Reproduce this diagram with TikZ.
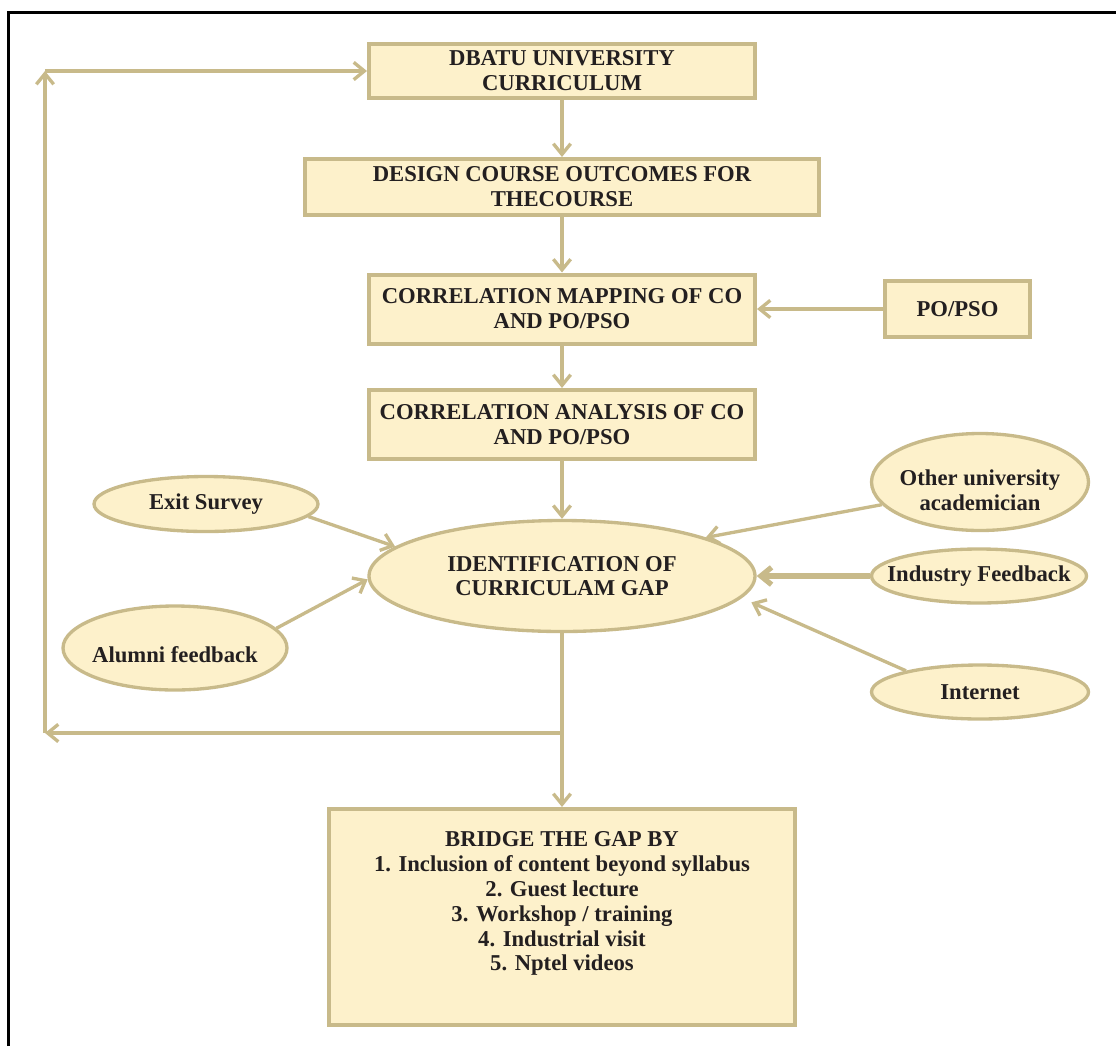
\documentclass[tikz,border=0pt]{standalone}
\usepackage{fontspec}
\setmainfont{Liberation Serif}
\usepackage{tikz}
\usetikzlibrary{shapes.geometric,arrows.meta}

\definecolor{edge}{RGB}{200,186,138}
\definecolor{cream}{RGB}{253,241,203}
\definecolor{ink}{RGB}{35,31,32}

\newcommand{\shiftedtext}[2]{\raisebox{#1}[\height][\depth]{\begin{tabular}{@{}c@{}}#2\end{tabular}}}

\begin{document}
\begin{tikzpicture}[x=0.75pt,y=-0.75pt,font=\bfseries\fontsize{17}{18.6}\selectfont]
            \tikzstyle{box}=[rectangle,draw=edge,fill=cream,line width=3pt,text=ink,align=center,inner sep=0pt,minimum width=289.5pt]
            \tikzstyle{bubble}=[ellipse,draw=edge,fill=cream,line width=2.5pt,text=ink,align=center,inner xsep=-20pt,inner ysep=0pt]
            \tikzstyle{flow}=[draw=edge,line width=2.5pt,-{Straight Barb[length=8pt,width=13pt]}]
                \useasboundingbox (0,0) rectangle (1116,1046);
                \draw[line width=2.5pt,black] (8.5,1046) -- (8.5,12.5) -- (1116,12.5);

                \node[box,minimum height=40.5pt] (dbatu) at (562,71) {DBATU UNIVERSITY\\CURRICULUM};
                \node[box,minimum width=386pt,minimum height=42pt] (design) at (562,187) {DESIGN COURSE OUTCOMES FOR\\THECOURSE};
                \node[box,minimum height=51.75pt] (mapping) at (562,309) {CORRELATION MAPPING OF CO\\AND PO/PSO};
                \node[box,minimum width=108.75pt,minimum height=42pt] (popso) at (957.5,309) {PO/PSO};
                \node[box,minimum height=51.75pt] (analysis) at (562,424.5) {CORRELATION ANALYSIS OF CO\\AND PO/PSO};

                \node[bubble,minimum width=289.5pt,minimum height=83.25pt] (gap) at (562,576) {IDENTIFICATION OF\\CURRICULAM GAP};
                \node[bubble,minimum width=168pt,minimum height=41.25pt] (exit) at (206,504) {Exit Survey};
                \node[bubble,minimum width=168pt,minimum height=63pt] (alumni) at (175,648) {\shiftedtext{-7.5pt}{Alumni feedback}};
                \node[bubble,minimum width=162.75pt,minimum height=72.75pt] (other) at (980,482) {\shiftedtext{-8pt}{Other university\\academician}};
                \node[bubble,minimum width=161.25pt,minimum height=40.5pt] (industry) at (979,576) {Industry Feedback};
                \node[bubble,minimum width=162.75pt,minimum height=40.5pt] (internet) at (980,692) {Internet};

                \node[box,minimum width=349.5pt,minimum height=162pt] (bridge) at (562,917) {\shiftedtext{9.75pt}{BRIDGE THE GAP BY\\1. Inclusion of content beyond syllabus\\2. Guest lecture\\3. Workshop / training\\4. Industrial visit\\5. Nptel videos}};

                \coordinate (split) at (562,733);
                \coordinate (turn-1) at (45,733);
                \coordinate (turn-2) at (45,71);

                \foreach \from/\to in {dbatu/design, design/mapping, mapping/analysis, analysis/gap, gap/bridge, popso/mapping}
                    \draw[flow] (\from) -- (\to);

                \draw[flow] (exit.-7) -- (gap.170);
                \draw[flow] (alumni.11) -- (gap.181);
                \draw[flow] (other.193) -- (gap.15);
                \draw[flow,line width=4pt] (industry) -- (gap);
                \draw[flow,shorten >=8pt] (internet.164) -- (gap.-7);

                \draw[flow] (split) -- (turn-1);
                \draw[flow] (turn-1) -- (turn-2);
                \draw[flow] (turn-2) -- (dbatu);
        \end{tikzpicture}
\end{document}
